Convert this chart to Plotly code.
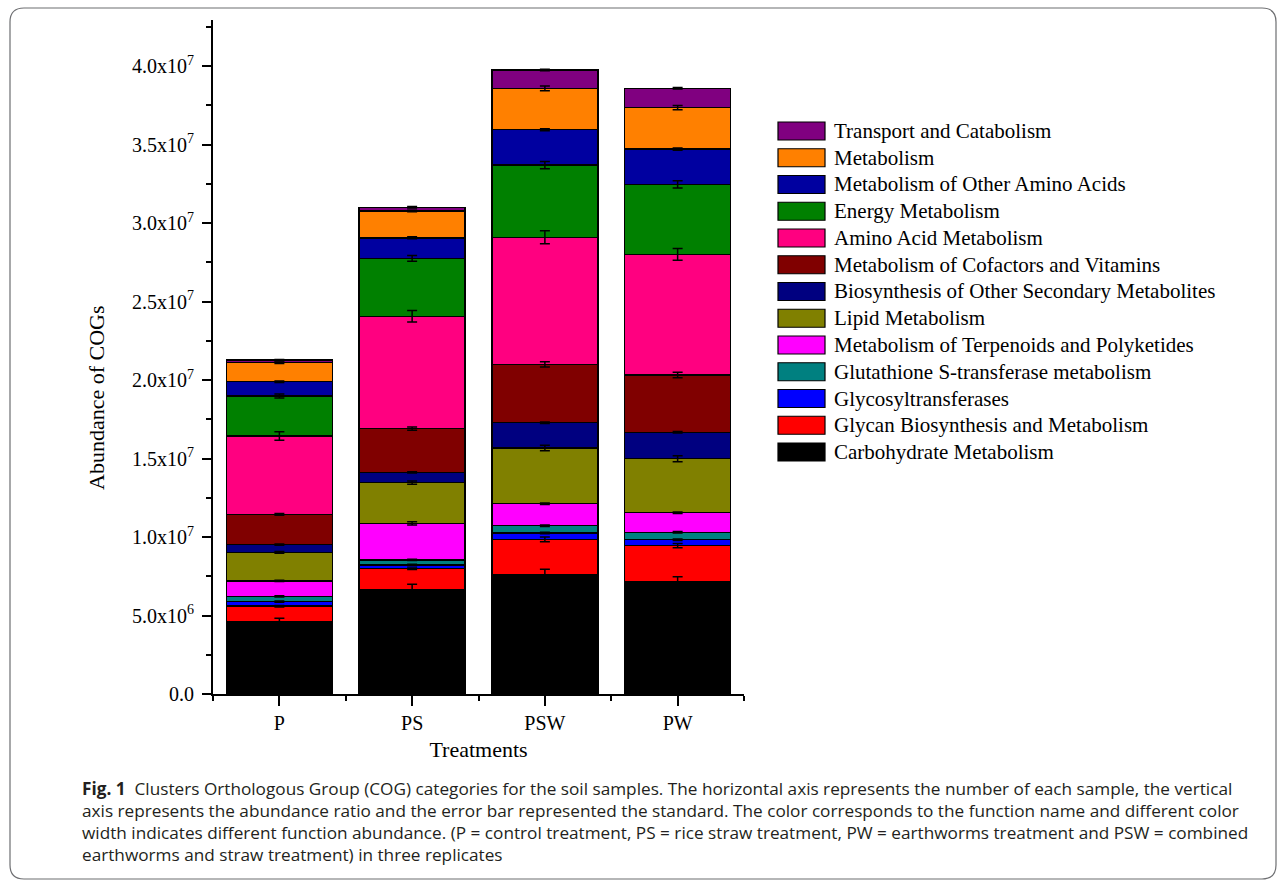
import plotly.graph_objects as go

# Treatments on the horizontal axis
treatments = ["P", "PS", "PSW", "PW"]

# Function categories, stacked from the bottom of each bar upwards
categories = [
    "Carbohydrate Metabolism",
    "Glycan Biosynthesis and Metabolism",
    "Glycosyltransferases",
    "Glutathione S-transferase metabolism",
    "Metabolism of Terpenoids and Polyketides",
    "Lipid Metabolism",
    "Biosynthesis of Other Secondary Metabolites",
    "Metabolism of Cofactors and Vitamins",
    "Amino Acid Metabolism",
    "Energy Metabolism",
    "Metabolism of Other Amino Acids",
    "Metabolism",
    "Transport and Catabolism",
]

colors = [
    "#000000", "#FF0000", "#0000FF", "#008080", "#FF00FF", "#808000",
    "#000080", "#800000", "#FF0080", "#008000", "#0000A0", "#FF8000", "#800080",
]

# Abundance of COGs per treatment (P, PS, PSW, PW)
carbohydrate = [4.61e6, 6.67e6, 7.60e6, 7.15e6]
glycan = [0.98e6, 1.31e6, 2.25e6, 2.30e6]
glycosyltransferases = [0.29e6, 0.24e6, 0.40e6, 0.38e6]
glutathione = [0.34e6, 0.32e6, 0.47e6, 0.47e6]
terpenoids = [0.98e6, 2.33e6, 1.40e6, 1.25e6]
lipid = [1.82e6, 2.59e6, 3.55e6, 3.44e6]
secondary = [0.49e6, 0.66e6, 1.61e6, 1.68e6]
cofactors = [1.93e6, 2.78e6, 3.72e6, 3.65e6]
amino_acid = [4.99e6, 7.16e6, 8.09e6, 7.68e6]
energy = [2.55e6, 3.69e6, 4.60e6, 4.46e6]
other_amino = [0.91e6, 1.31e6, 2.25e6, 2.25e6]
metabolism = [1.21e6, 1.70e6, 2.64e6, 2.64e6]
transport = [0.17e6, 0.24e6, 1.17e6, 1.23e6]

# Standard errors of the three replicates
carbohydrate_err = [0.21e6, 0.32e6, 0.34e6, 0.32e6]
glycan_err = [0.05e6, 0.05e6, 0.15e6, 0.14e6]
glycosyltransferases_err = [0.04e6, 0.05e6, 0.05e6, 0.05e6]
glutathione_err = [0.04e6, 0.04e6, 0.05e6, 0.05e6]
terpenoids_err = [0.04e6, 0.10e6, 0.05e6, 0.05e6]
lipid_err = [0.05e6, 0.10e6, 0.18e6, 0.19e6]
secondary_err = [0.04e6, 0.04e6, 0.05e6, 0.05e6]
cofactors_err = [0.05e6, 0.10e6, 0.17e6, 0.18e6]
amino_acid_err = [0.27e6, 0.37e6, 0.41e6, 0.38e6]
energy_err = [0.13e6, 0.18e6, 0.23e6, 0.23e6]
other_amino_err = [0.05e6, 0.06e6, 0.07e6, 0.07e6]
metabolism_err = [0.05e6, 0.05e6, 0.15e6, 0.14e6]
transport_err = [0.04e6, 0.05e6, 0.05e6, 0.05e6]

series = [carbohydrate, glycan, glycosyltransferases, glutathione, terpenoids, lipid,
          secondary, cofactors, amino_acid, energy, other_amino, metabolism, transport]
errors = [carbohydrate_err, glycan_err, glycosyltransferases_err, glutathione_err,
          terpenoids_err, lipid_err, secondary_err, cofactors_err, amino_acid_err,
          energy_err, other_amino_err, metabolism_err, transport_err]

y_tickvals = [0, 5e6, 1e7, 1.5e7, 2e7, 2.5e7, 3e7, 3.5e7, 4e7]
y_ticktext = ["0.0", "5.0x10<sup>6</sup>", "1.0x10<sup>7</sup>", "1.5x10<sup>7</sup>",
              "2.0x10<sup>7</sup>", "2.5x10<sup>7</sup>", "3.0x10<sup>7</sup>",
              "3.5x10<sup>7</sup>", "4.0x10<sup>7</sup>"]

caption_lines = [
    "<b>Fig. 1</b>  Clusters Orthologous Group (COG) categories for the soil samples. The horizontal axis represents the number of each sample, the vertical",
    "axis represents the abundance ratio and the error bar represented the standard. The color corresponds to the function name and different color",
    "width indicates different function abundance. (P = control treatment, PS = rice straw treatment, PW = earthworms treatment and PSW = combined",
    "earthworms and straw treatment) in three replicates",
]

W, H = 1284, 885
SERIF = "Liberation Serif, Times New Roman, serif"
SANS = "Open Sans, Noto Sans, sans-serif"


def px(x):
    return x / W


def py(y):
    return 1 - y / H


x_pos = list(range(len(treatments)))

fig = go.Figure()

for name, vals, col in zip(categories, series, colors):
    fig.add_trace(go.Bar(
        x=x_pos, y=vals, name=name, width=0.8,
        marker=dict(color=col, line=dict(color="black", width=1.5)),
        showlegend=False,
    ))

# Error bars sit on the top of each stacked segment, drawn above all bars
running = [0.0] * len(treatments)
for vals, err in zip(series, errors):
    running = [r + v for r, v in zip(running, vals)]
    fig.add_trace(go.Scatter(
        x=x_pos, y=running, mode="markers",
        marker=dict(size=1, color="black", opacity=0),
        error_y=dict(type="data", array=err, visible=True, color="black",
                     thickness=1.5, width=5),
        showlegend=False, hoverinfo="skip",
    ))

# Legend drawn as swatches with labels, top entry = top of the stack
shapes = []
annotations = []
row0, row_step = 131, 26.75
for i, (name, col) in enumerate(zip(categories[::-1], colors[::-1])):
    yc = row0 + i * row_step
    shapes.append(dict(type="rect", xref="paper", yref="paper",
                       x0=px(778), x1=px(825), y0=py(yc + 9), y1=py(yc - 9),
                       fillcolor=col, line=dict(color="black", width=1.2)))
    annotations.append(dict(x=px(832), y=py(yc), xref="paper", yref="paper",
                            text=name, showarrow=False, xanchor="left", yanchor="middle",
                            font=dict(family=SERIF, size=21, color="black")))

# Vertical axis title
annotations.append(dict(x=px(97), y=py(398), xref="paper", yref="paper",
                        text="Abundance of COGs", textangle=-90, showarrow=False,
                        xanchor="center", yanchor="middle",
                        font=dict(family=SERIF, size=22, color="black")))

# Caption lines
for i, line in enumerate(caption_lines):
    annotations.append(dict(x=px(80), y=py(788 + i * 22), xref="paper", yref="paper",
                            text=line, showarrow=False, xanchor="left", yanchor="middle",
                            font=dict(family=SANS, size=17.2, color="#231f20")))

# Rounded frame around the figure and caption
x0, x1, y0, y1, r = 10, 1276, 8, 879, 14
rx, ry = r / W, r / H
X0, X1, Y0, Y1 = px(x0), px(x1), py(y0), py(y1)
frame = (f"M {X0 + rx} {Y0} L {X1 - rx} {Y0} Q {X1} {Y0} {X1} {Y0 - ry} "
         f"L {X1} {Y1 + ry} Q {X1} {Y1} {X1 - rx} {Y1} "
         f"L {X0 + rx} {Y1} Q {X0} {Y1} {X0} {Y1 + ry} "
         f"L {X0} {Y0 - ry} Q {X0} {Y0} {X0 + rx} {Y0} Z")
shapes.append(dict(type="path", xref="paper", yref="paper", path=frame,
                   line=dict(color="#6d6e71", width=1.2)))

fig.update_layout(
    width=W, height=H,
    margin=dict(l=0, r=0, t=0, b=0, autoexpand=False),
    paper_bgcolor="white", plot_bgcolor="white",
    barmode="stack", bargap=0.2,
    shapes=shapes, annotations=annotations,
    font=dict(family=SERIF, color="black"),
    xaxis=dict(
        domain=[px(213), px(744)],
        range=[-0.5, 3.5],
        automargin=False,
        tickvals=x_pos, ticktext=treatments,
        ticks="outside", ticklen=10, tickwidth=1.5, tickcolor="black",
        minor=dict(tickvals=[-0.5, 0.5, 1.5, 2.5, 3.5], ticks="outside",
                   ticklen=5, tickwidth=1.5, tickcolor="black"),
        showline=True, linecolor="black", linewidth=2,
        showgrid=False, zeroline=False,
        tickfont=dict(family=SERIF, size=20, color="black"),
        title=dict(text="Treatments", font=dict(family=SERIF, size=22, color="black"),
                   standoff=9),
    ),
    yaxis=dict(
        domain=[py(694), py(20)],
        range=[0, 4.293e7],
        automargin=False,
        tickvals=y_tickvals, ticktext=y_ticktext,
        ticks="outside", ticklen=9, tickwidth=1.5, tickcolor="black",
        minor=dict(dtick=2.5e6, tick0=0, ticks="outside", ticklen=5,
                   tickwidth=1.5, tickcolor="black"),
        showline=True, linecolor="black", linewidth=2,
        showgrid=False, zeroline=False,
        tickfont=dict(family=SERIF, size=20, color="black"),
        ticklabelstandoff=4,
    ),
)

fig.write_html("out.html")
